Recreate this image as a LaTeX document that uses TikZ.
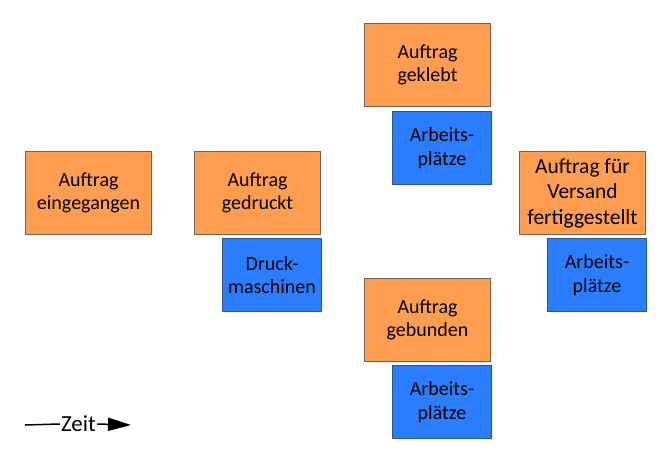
\documentclass[tikz,border=0pt]{standalone}
\usepackage{fontspec}
\setmainfont{Carlito}
\usetikzlibrary{arrows.meta}
\definecolor{orfill}{RGB}{255,158,80}
\definecolor{ordraw}{RGB}{110,98,89}
\definecolor{blfill}{RGB}{42,125,255}
\definecolor{bldraw}{RGB}{50,85,130}
\begin{document}
\begin{tikzpicture}[x=1pt,y=-1pt,
  obox/.style={draw=ordraw,fill=orfill,line width=1pt,minimum width=126pt,minimum height=83pt,inner sep=0pt,align=center,font=\fontsize{20}{23.5}\selectfont,anchor=north west},
  bbox/.style={draw=bldraw,fill=blfill,line width=1pt,minimum width=99pt,minimum height=73pt,inner sep=0pt,align=center,font=\fontsize{20}{23.5}\selectfont,anchor=north west},
  zeitlbl/.style={font=\fontsize{23}{26}\selectfont,inner sep=1pt}]
\useasboundingbox (0,0) rectangle (661,465);
\node[obox] (o1) at (25,151) {Auftrag\\eingegangen};
\node[obox] (o2) at (194,151) {Auftrag\\gedruckt};
\node[bbox] (b2) at (222,238) {Druck-\\maschinen};
\node[obox] (o3) at (364,23) {Auftrag\\geklebt};
\node[bbox] (b3) at (392,111) {Arbeits-\\plätze};
\node[obox,font=\fontsize{21.5}{25.5}\selectfont] (o4) at (519,151) {Auftrag für\\Versand\\fertiggestellt};
\node[bbox] (b4) at (547,238) {Arbeits-\\plätze};
\node[obox] (o5) at (364,278) {Auftrag\\gebunden};
\node[bbox] (b5) at (392,365) {Arbeits-\\plätze};
\node[zeitlbl] (zeit) at (78.5,424) {Zeit};
\coordinate (zs) at (25,425);
\coordinate (ze) at (131,425);
\draw[line width=1.5pt] (zs) -- (zeit.west);
\draw[line width=1.5pt,-{Triangle[length=23pt,width=13pt]}] (zeit.east) -- (ze);
\end{tikzpicture}
\end{document}
